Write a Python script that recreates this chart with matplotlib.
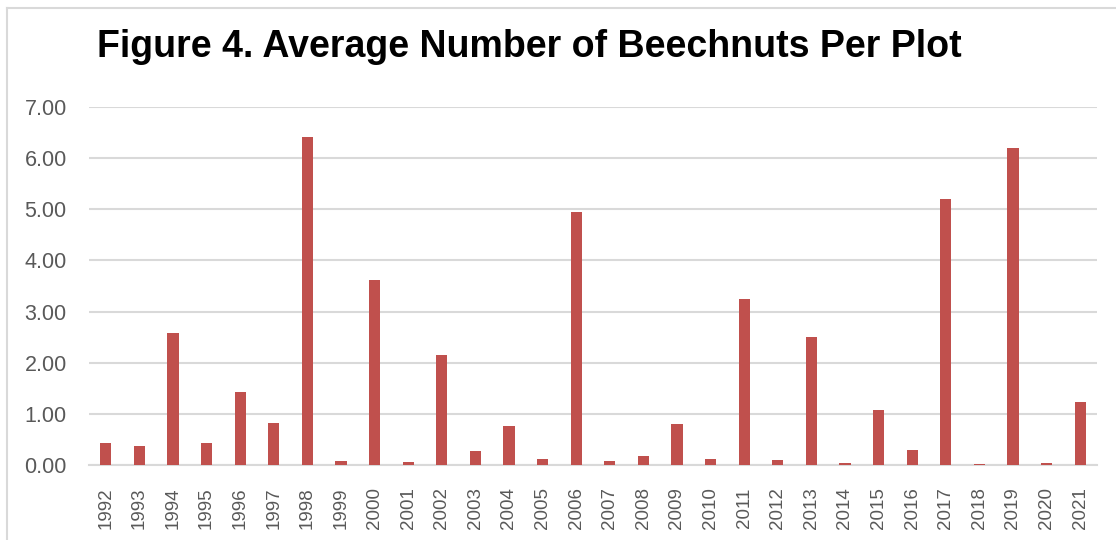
import matplotlib.pyplot as plt
from matplotlib.lines import Line2D

years = [str(y) for y in range(1992, 2022)]
beechnuts = [0.43, 0.38, 2.59, 0.43, 1.42, 0.83, 6.42, 0.07, 3.62, 0.06,
             2.16, 0.28, 0.76, 0.12, 4.95, 0.08, 0.17, 0.80, 0.125, 3.25,
             0.105, 2.50, 0.04, 1.07, 0.30, 5.20, 0.026, 6.19, 0.04, 1.23]
yticks = [0, 1, 2, 3, 4, 5, 6, 7]

W, H = 1116, 540
fig = plt.figure(figsize=(W / 100, H / 100), dpi=100)
ax = fig.add_axes([89 / W, 75 / H, 1008 / W, 358 / H])

# chart frame: only top and left edges show in the crop
frame = dict(transform=fig.transFigure, color="#d9d9d9", linewidth=1.5)
fig.lines.append(Line2D([7 / W, 7 / W], [0, 1 - 8 / H], **frame))
fig.lines.append(Line2D([7 / W, 1], [1 - 8 / H, 1 - 8 / H], **frame))

x = range(len(years))
ax.bar(x, beechnuts, width=0.33, color="#c0504d", zorder=3)

ax.set_xlim(-0.5, len(years) - 0.5)
ax.set_ylim(0, 7)
ax.set_yticks(yticks)
ax.set_yticklabels([f"{v:.2f}" for v in yticks])
ax.set_xticks(list(x))
ax.set_xticklabels(years, rotation=90)

ax.grid(axis="y", color="#d9d9d9", linewidth=1.5, zorder=0)
for s in ["top", "right", "left"]:
    ax.spines[s].set_visible(False)
ax.spines["bottom"].set_color("#d9d9d9")
ax.spines["bottom"].set_linewidth(1.5)
ax.tick_params(axis="both", length=0, labelcolor="#595959")
ax.tick_params(axis="y", pad=16, labelsize=15.5)
ax.tick_params(axis="x", pad=16, labelsize=13.5)
for lab in ax.get_xticklabels() + ax.get_yticklabels():
    lab.set_family("Liberation Sans")

fig.text(97 / W, 1 - 47 / H, "Figure 4. Average Number of Beechnuts Per Plot",
         fontsize=27, fontweight="bold", family="Liberation Sans",
         va="center", ha="left", color="black")

fig.savefig("out.png", dpi=100)
